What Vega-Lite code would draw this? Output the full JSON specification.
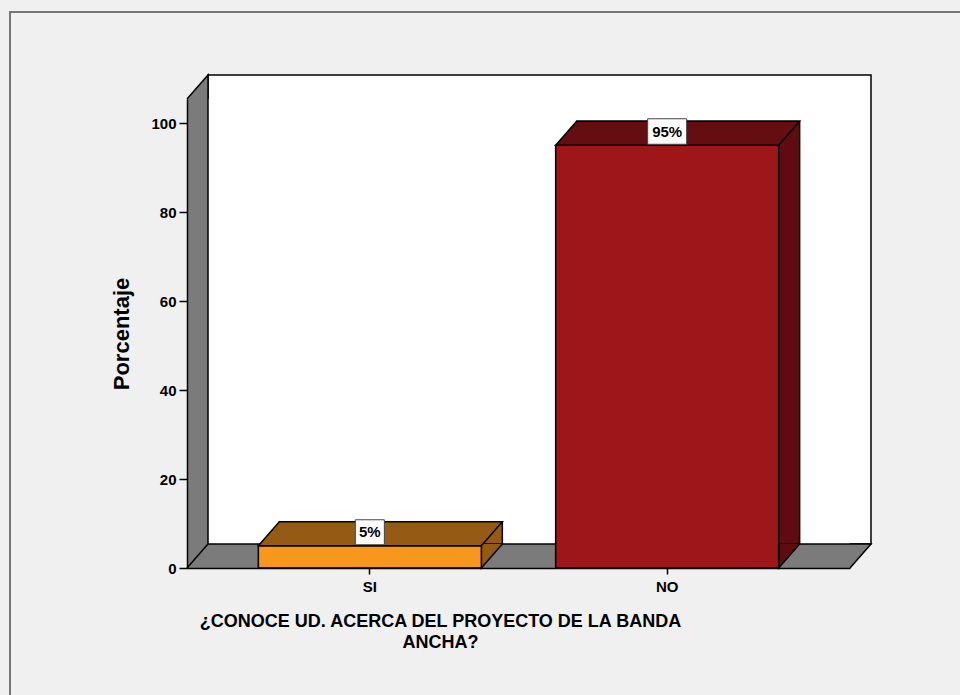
{
  "$schema": "https://vega.github.io/schema/vega-lite/v6.json",
  "width": 663,
  "height": 469,
  "autosize": {"type": "none"},
  "padding": {"left": 187, "top": 99, "right": 110, "bottom": 127},
  "background": "#f0f0f0",
  "config": {"view": {"stroke": null}, "font": "Liberation Sans"},
  "layer": [
    {
      "data": {"values": [{}]},
      "encoding": {
        "x": {"datum": 0, "type": "quantitative", "scale": {"domain": [0, 1]}, "axis": null},
        "y": {
          "datum": 0,
          "type": "quantitative",
          "scale": {"domain": [0, 105.4], "nice": false},
          "axis": {
            "title": "Porcentaje",
            "values": [0, 20, 40, 60, 80, 100],
            "grid": false,
            "zindex": 1,
            "domainColor": "black",
            "domainWidth": 1.5,
            "tickColor": "black",
            "tickSize": 8,
            "tickWidth": 1.5,
            "labelPadding": 3,
            "labelFontSize": 15,
            "labelFontWeight": "bold",
            "labelColor": "black",
            "titleFontSize": 22,
            "titleFontWeight": "bold",
            "titleColor": "black",
            "titlePadding": 17
          }
        }
      },
      "layer": [
        {
          "mark": {"type": "rect", "fill": "transparent", "stroke": "#767676", "strokeWidth": 2, "xOffset": -177, "x2Offset": 300, "yOffset": 300, "y2Offset": -87},
          "encoding": {"x2": {"datum": 1}, "y2": {"datum": 105.4}}
        },
        {
          "mark": {"type": "rect", "fill": "#7b7b7b", "strokeWidth": 0},
          "encoding": {"x2": {"datum": 1}, "y2": {"datum": 105.4}}
        },
        {
          "mark": {"type": "rect", "fill": "white", "stroke": "black", "strokeWidth": 1.5, "xOffset": 21, "x2Offset": 21, "yOffset": -24, "y2Offset": -24},
          "encoding": {"x2": {"datum": 1}, "y2": {"datum": 105.4}}
        },
        {
          "mark": {"type": "point", "shape": "M 0 0 L 21 -24 L 21 0", "size": 4, "filled": true, "fill": "#7b7b7b", "stroke": "black", "strokeWidth": 1.5, "opacity": 1},
          "encoding": {"y": {"datum": 105.4, "type": "quantitative"}}
        },
        {
          "mark": {"type": "point", "shape": "M 0 0 L 21 -24", "size": 4, "filled": false, "stroke": "black", "strokeWidth": 1.5, "opacity": 1}
        },
        {
          "mark": {"type": "point", "shape": "M 0 -24 L 21 -24 L 0 0", "size": 4, "filled": true, "fill": "#7b7b7b", "stroke": "black", "strokeWidth": 1.5, "opacity": 1},
          "encoding": {"x": {"datum": 1, "type": "quantitative"}}
        }
      ]
    },
    {
      "data": {
        "values": [
          {"respuesta": "SI", "porcentaje": 5},
          {"respuesta": "NO", "porcentaje": 95}
        ]
      },
      "encoding": {
        "x": {
          "field": "respuesta",
          "type": "nominal",
          "sort": ["SI", "NO"],
          "scale": {"paddingInner": 0.25, "paddingOuter": 0.24},
          "axis": {
            "title": ["¿CONOCE UD. ACERCA DEL PROYECTO DE LA BANDA", "ANCHA?"],
            "labelAngle": 0,
            "zindex": 1,
            "domainColor": "black",
            "domainWidth": 1.5,
            "tickColor": "black",
            "tickSize": 6,
            "tickWidth": 1.5,
            "labelPadding": 5,
            "labelFontSize": 15,
            "labelFontWeight": "bold",
            "labelColor": "black",
            "titleFontSize": 18,
            "titleFontWeight": "bold",
            "titleColor": "black",
            "titleX": 253,
            "titleY": 44,
            "titleBaseline": "top",
            "titleAlign": "center",
            "titleLineHeight": 21
          }
        },
        "y": {
          "field": "porcentaje",
          "type": "quantitative",
          "scale": {"domain": [0, 105.4], "nice": false},
          "axis": {
            "title": "Porcentaje",
            "values": [0, 20, 40, 60, 80, 100],
            "grid": false,
            "zindex": 1,
            "domainColor": "black",
            "domainWidth": 1.5,
            "tickColor": "black",
            "tickSize": 8,
            "tickWidth": 1.5,
            "labelPadding": 3,
            "labelFontSize": 15,
            "labelFontWeight": "bold",
            "labelColor": "black",
            "titleFontSize": 22,
            "titleFontWeight": "bold",
            "titleColor": "black",
            "titlePadding": 17
          }
        }
      },
      "layer": [
        {
          "mark": {"type": "bar", "stroke": "black", "strokeWidth": 1.5, "xOffset": 21, "yOffset": -24, "y2Offset": -24},
          "encoding": {
            "color": {"field": "respuesta", "type": "nominal", "scale": {"domain": ["SI", "NO"], "range": ["#955a13", "#5e0c10"]}, "legend": null}
          }
        },
        {
          "mark": {"type": "point", "shape": "M 111.5 -24 L 111.5 0 L 132.5 -24", "size": 4, "filled": true, "stroke": "black", "strokeWidth": 1.5, "opacity": 1},
          "encoding": {
            "y": {"datum": 0, "type": "quantitative"},
            "color": {"field": "respuesta", "type": "nominal", "scale": {"domain": ["SI", "NO"], "range": ["#955a13", "#5e0c10"]}, "legend": null}
          }
        },
        {
          "mark": {"type": "bar", "stroke": "black", "strokeWidth": 1.5},
          "encoding": {
            "fill": {"field": "respuesta", "type": "nominal", "scale": {"domain": ["SI", "NO"], "range": ["#f7981d", "#9f161a"]}, "legend": null}
          }
        },
        {
          "mark": {"type": "point", "shape": "M -111.5 0 L 111.5 0 L 132.5 -24 L -90.5 -24 Z", "size": 4, "filled": true, "stroke": "black", "strokeWidth": 1.5, "opacity": 1},
          "encoding": {
            "fill": {"field": "respuesta", "type": "nominal", "scale": {"domain": ["SI", "NO"], "range": ["#955a13", "#650e12"]}, "legend": null}
          }
        },
        {
          "mark": {"type": "point", "size": 4, "filled": true, "fill": "white", "stroke": "#444444", "strokeWidth": 1, "opacity": 1},
          "encoding": {
            "shape": {"field": "respuesta", "type": "nominal", "scale": {"domain": ["SI", "NO"], "range": ["M -14.5 -26 L 14.5 -26 L 14.5 -1 L -14.5 -1 Z", "M -19.5 -26.5 L 19.5 -26.5 L 19.5 -1 L -19.5 -1 Z"]}, "legend": null}
          }
        },
        {
          "mark": {"type": "text", "text": {"expr": "datum.porcentaje + '%'"}, "dy": -13.5, "baseline": "middle", "align": "center", "fontSize": 15, "fontWeight": "bold", "fill": "black"}
        }
      ],
      "resolve": {"scale": {"color": "independent", "fill": "independent"}}
    }
  ],
  "resolve": {"scale": {"x": "independent", "color": "independent", "fill": "independent", "shape": "independent"}}
}
